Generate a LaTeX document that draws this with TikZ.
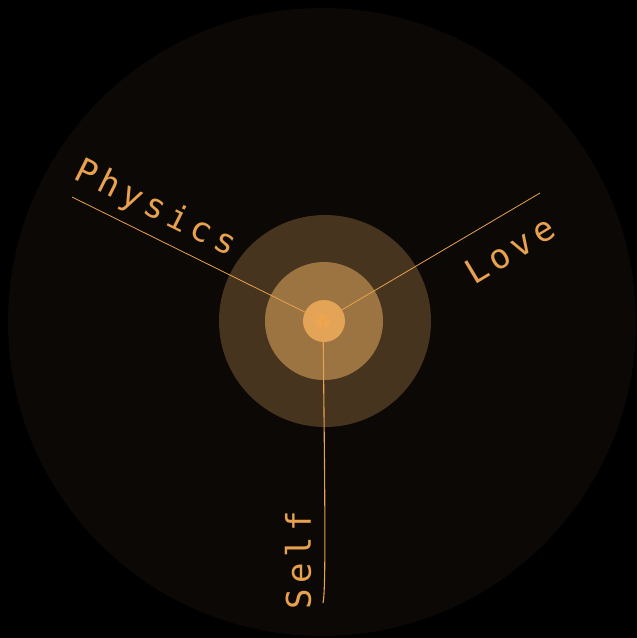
\documentclass[tikz,border=0pt]{standalone}
\usepackage{fontspec}
\newfontfamily\labelfont[LetterSpace=16]{DejaVu Sans Mono}
\definecolor{bgdark}{HTML}{0B0806}
\definecolor{ringA}{HTML}{46341E}
\definecolor{ringB}{HTML}{9C7442}
\definecolor{ringC}{HTML}{E3A457}
\definecolor{coreC}{HTML}{EDA54F}
\definecolor{amber}{HTML}{E8A24F}
\begin{document}
\begin{tikzpicture}[x=1pt,y=-1pt,
  lbl/.style={text=amber,font=\labelfont\fontsize{34}{36}\selectfont,inner sep=0pt},
  spoke/.style={draw=amber,line width=0.8pt}]
\useasboundingbox (0,0) rectangle (637,638);
\fill[black] (0,0) rectangle (637,638);
\fill[bgdark] (322,322) circle[radius=314];
\fill[ringA] (325,321) circle[radius=106];
\fill[ringB] (324,321) circle[radius=59];
\fill[ringC] (324,321) circle[radius=21];
\fill[coreC] (323,321) circle[radius=7];
\coordinate (c) at (323,321);
\coordinate (pend) at (72,197);
\coordinate (lend) at (540,193);
\coordinate (send) at (323,603);
\draw[spoke] (pend) -- (c);
\draw[spoke] (lend) -- (c);
\draw[spoke,line width=1.1pt] (c) .. controls (325,500) and (326,590) .. (send);
\node[lbl,rotate=-26.5] (phys) at (155,209) {Physics};
\node[lbl,rotate=31] (love) at (510,250) {Love};
\node[lbl,rotate=90] (self) at (298,560) {Self};
\end{tikzpicture}
\end{document}
